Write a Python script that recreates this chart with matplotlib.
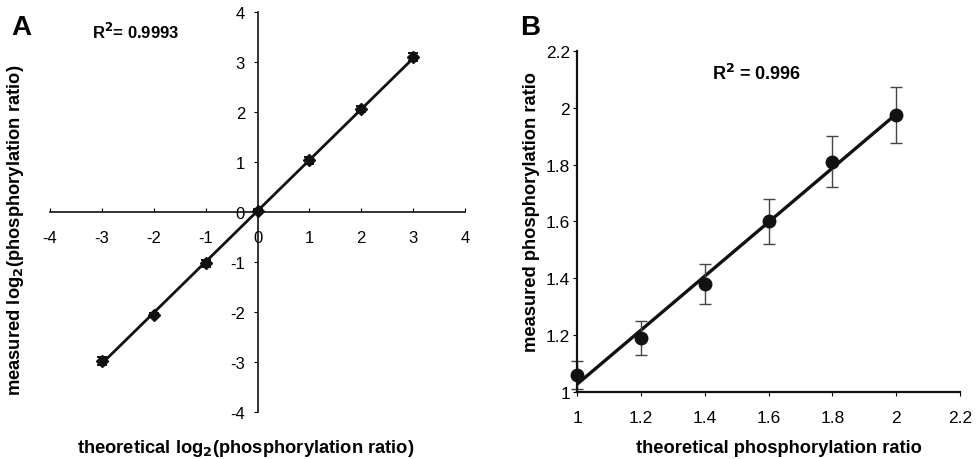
import numpy as np
import matplotlib
matplotlib.use("Agg")
import matplotlib.pyplot as plt

plt.rcParams["font.family"] = ["Liberation Sans", "DejaVu Sans"]

# --- panel A: log2 ratios ---
a_theo = [-3, -2, -1, 0, 1, 2, 3]
a_meas = [-2.97, -2.06, -1.02, 0.02, 1.03, 2.05, 3.10]
a_err = [0.08, 0.04, 0.07, 0.04, 0.07, 0.06, 0.08]
a_ticks = [-4, -3, -2, -1, 0, 1, 2, 3, 4]

# --- panel B: linear ratios ---
b_theo = [1.0, 1.2, 1.4, 1.6, 1.8, 2.0]
b_meas = [1.06, 1.19, 1.38, 1.60, 1.81, 1.975]
b_err = [0.05, 0.06, 0.07, 0.08, 0.09, 0.10]
b_ticks = [1, 1.2, 1.4, 1.6, 1.8, 2, 2.2]

INK = "#111111"
LAB = 13.2
fig = plt.figure(figsize=(9.77, 4.6), dpi=100)

# panel A
ax = fig.add_axes([0.0512, 0.102, 0.4248, 0.870])
ax.set_xlim(-4, 4); ax.set_ylim(-4, 4)
for sp in ("top", "right"):
    ax.spines[sp].set_visible(False)
ax.spines["left"].set_position(("data", 0))
ax.spines["bottom"].set_position(("data", 0))
for sp in ("left", "bottom"):
    ax.spines[sp].set_linewidth(1.2); ax.spines[sp].set_color(INK)
ax.set_xticks(a_ticks); ax.set_yticks(a_ticks)
ax.set_xticklabels([f"{t:g}" for t in a_ticks])
ax.set_yticklabels([f"{t:g}" for t in a_ticks])
ax.tick_params(axis="x", direction="in", length=3, pad=13, labelsize=12)
ax.tick_params(axis="y", direction="out", length=3, pad=6, labelsize=12)
ax.patch.set_alpha(0)

fa = np.polyfit(a_theo, a_meas, 1)
xs = np.array([min(a_theo), max(a_theo)])
ax.plot(xs, np.polyval(fa, xs), color=INK, lw=2)
ax.errorbar(a_theo, a_meas, yerr=a_err, fmt="D", ms=6, color=INK,
            ecolor=INK, elinewidth=1.2, capsize=3.5, capthick=1.4)

fig.text(0.012, 0.924, "A", fontsize=20, fontweight="bold")
fig.text(0.094, 0.915, "R$^{\\mathbf{2}}$= 0.9993", fontsize=12, fontweight="bold")
fig.text(0.251, 0.026, "theoretical log$_{\\mathbf{2}}$(phosphorylation ratio)",
         ha="center", va="center", fontsize=LAB, fontweight="bold")
fig.text(0.016, 0.50, "measured log$_{\\mathbf{2}}$(phosphorylation ratio)",
         rotation=90, va="center", ha="center", fontsize=LAB, fontweight="bold")

# panel B
bx = fig.add_axes([0.5906, 0.1457, 0.392, 0.7413])
bx.set_xlim(1, 2.2); bx.set_ylim(1, 2.2)
for sp in ("top", "right"):
    bx.spines[sp].set_visible(False)
for sp in ("left", "bottom"):
    bx.spines[sp].set_linewidth(1.6); bx.spines[sp].set_color(INK)
bx.set_xticks(b_ticks); bx.set_yticks(b_ticks)
bx.set_xticklabels([f"{t:g}" for t in b_ticks])
bx.set_yticklabels([f"{t:g}" for t in b_ticks])
bx.tick_params(axis="x", direction="out", length=3, pad=10, labelsize=12.5)
bx.tick_params(axis="y", direction="out", length=3, pad=2, labelsize=12.5)
bx.patch.set_alpha(0)

fb = np.polyfit(b_theo, b_meas, 1)
xs = np.array([min(b_theo), max(b_theo)])
bx.plot(xs, np.polyval(fb, xs), color=INK, lw=2.4)
bx.errorbar(b_theo, b_meas, yerr=b_err, fmt="o", ms=9, color=INK,
            ecolor="#444444", elinewidth=1.0, capsize=4, capthick=1.0,
            clip_on=False)

fig.text(0.532, 0.924, "B", fontsize=20, fontweight="bold")
fig.text(0.729, 0.826, "R$^{\\mathbf{2}}$ = 0.996", fontsize=13, fontweight="bold")
fig.text(0.797, 0.026, "theoretical phosphorylation ratio",
         ha="center", va="center", fontsize=LAB, fontweight="bold")
fig.text(0.544, 0.539, "measured phosphorylation ratio",
         rotation=90, va="center", ha="center", fontsize=LAB, fontweight="bold")

fig.savefig("out.png", dpi=100)
